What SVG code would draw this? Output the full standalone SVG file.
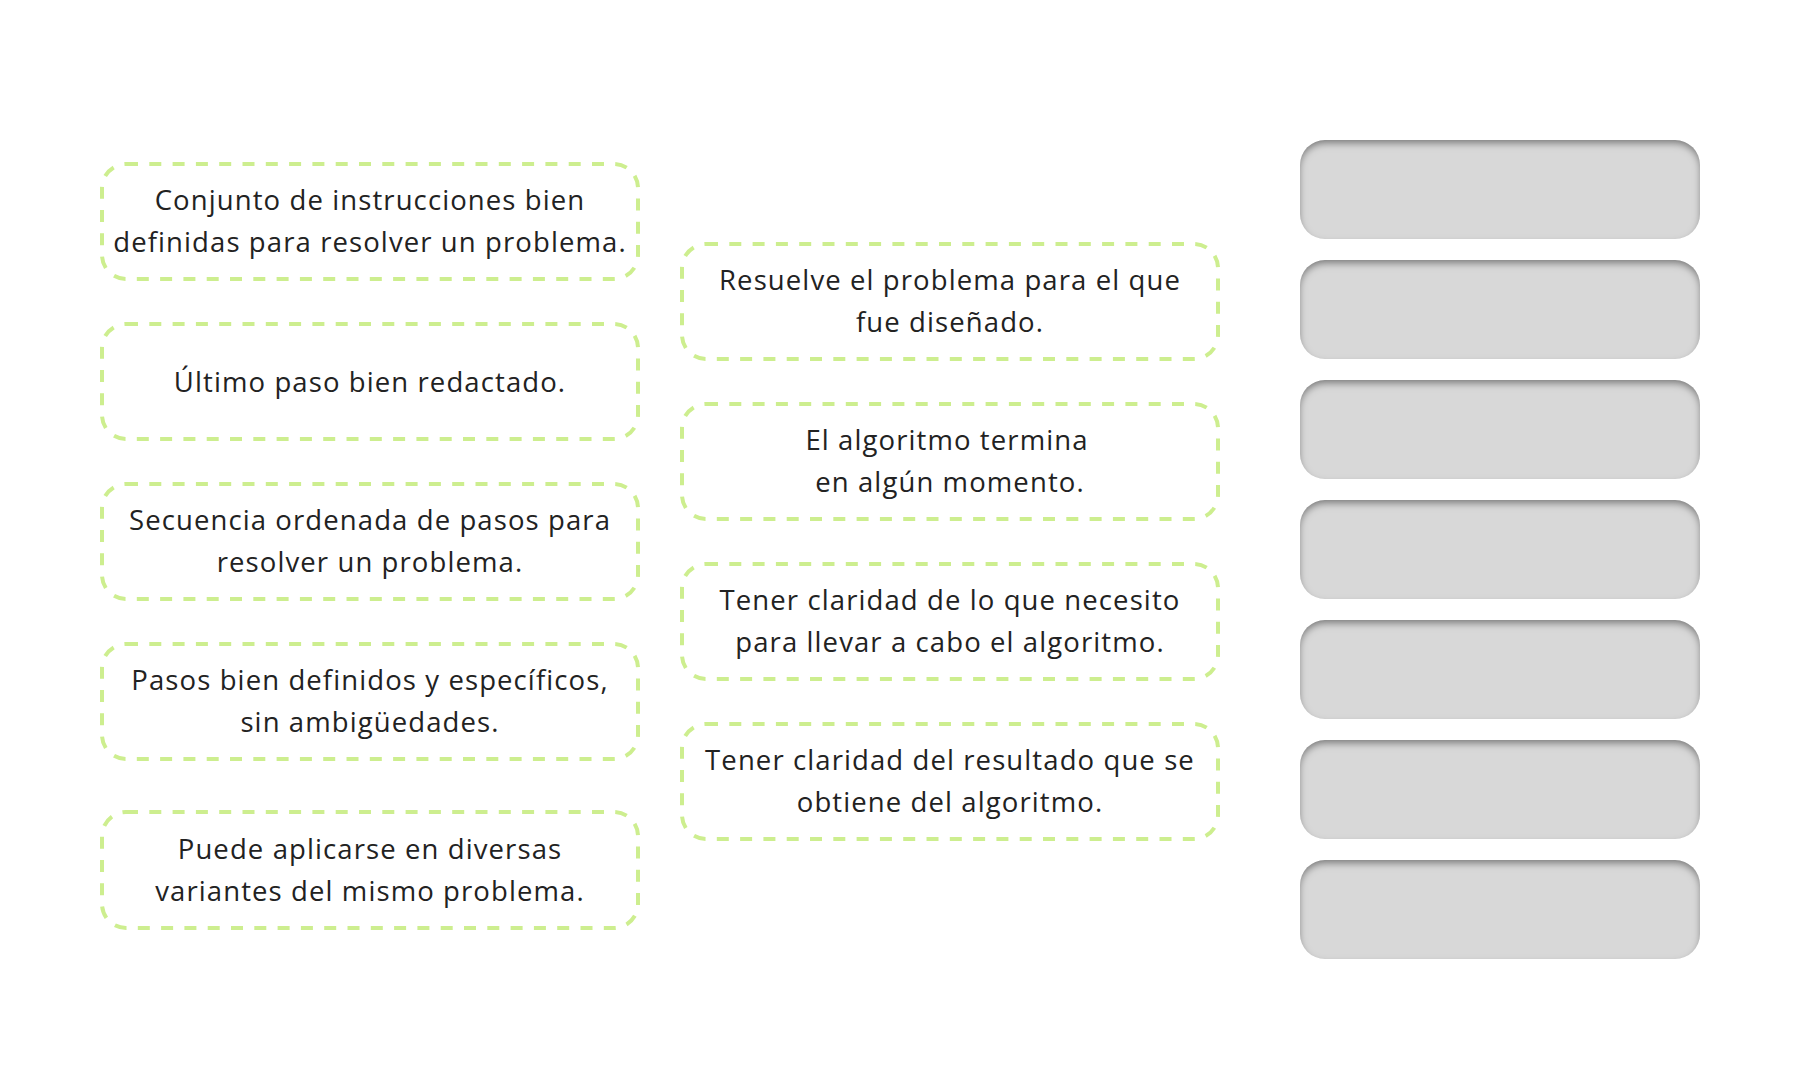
<svg xmlns="http://www.w3.org/2000/svg" width="1800" height="1080" viewBox="0 0 1800 1080">
<defs>
<style>
.card{fill:#ffffff;stroke:#cdee8f;stroke-width:4;stroke-dasharray:12 11.3;}
.t{font-family:"Open Sans","Noto Sans","DejaVu Sans",sans-serif;font-size:27.5px;letter-spacing:1.1px;fill:#222222;text-anchor:middle;}
.slot{fill:#d8d8d8;}
</style>
<filter id="inset" x="-5%" y="-20%" width="110%" height="140%">
<feFlood flood-color="#000000" flood-opacity="0.7" result="f"/>
<feComposite in="f" in2="SourceAlpha" operator="out" result="o"/>
<feOffset in="o" dy="4" result="off"/>
<feGaussianBlur in="off" stdDeviation="3.5" result="b"/>
<feComposite in="b" in2="SourceAlpha" operator="in" result="s"/>
<feMerge><feMergeNode in="SourceGraphic"/><feMergeNode in="s"/></feMerge>
</filter>
</defs>
<rect width="1800" height="1080" fill="#ffffff"/>
<g id="connectors"></g>

<g id="n1"><rect class="card" x="102" y="164" width="536" height="115" rx="24"/>
<text class="t" x="370" y="210">Conjunto de instrucciones bien</text>
<text class="t" x="370" y="252">definidas para resolver un problema.</text></g>
<g id="n2"><rect class="card" x="102" y="324" width="536" height="115" rx="24"/>
<text class="t" x="370" y="392">Último paso bien redactado.</text></g>
<g id="n3"><rect class="card" x="102" y="484" width="536" height="115" rx="24"/>
<text class="t" x="370" y="530">Secuencia ordenada de pasos para</text>
<text class="t" x="370" y="572">resolver un problema.</text></g>
<g id="n4"><rect class="card" x="102" y="644" width="536" height="115" rx="24"/>
<text class="t" x="370" y="690">Pasos bien definidos y específicos,</text>
<text class="t" x="370" y="732">sin ambigüedades.</text></g>
<g id="n5"><rect class="card" x="102" y="812" width="536" height="116" rx="24"/>
<text class="t" x="370" y="859">Puede aplicarse en diversas</text>
<text class="t" x="370" y="901">variantes del mismo problema.</text></g>

<g id="m1"><rect class="card" x="682" y="244" width="536" height="115" rx="24"/>
<text class="t" x="950" y="290">Resuelve el problema para el que</text>
<text class="t" x="950" y="332">fue diseñado.</text></g>
<g id="m2"><rect class="card" x="682" y="404" width="536" height="115" rx="24"/>
<text class="t" x="947" y="450">El algoritmo termina</text>
<text class="t" x="950" y="492">en algún momento.</text></g>
<g id="m3"><rect class="card" x="682" y="564" width="536" height="115" rx="24"/>
<text class="t" x="950" y="610">Tener claridad de lo que necesito</text>
<text class="t" x="950" y="652">para llevar a cabo el algoritmo.</text></g>
<g id="m4"><rect class="card" x="682" y="724" width="536" height="115" rx="24"/>
<text class="t" x="950" y="770">Tener claridad del resultado que se</text>
<text class="t" x="950" y="812">obtiene del algoritmo.</text></g>

<g id="s1"><rect class="slot" filter="url(#inset)" x="1300" y="140" width="400" height="99" rx="25"/></g>
<g id="s2"><rect class="slot" filter="url(#inset)" x="1300" y="260" width="400" height="99" rx="25"/></g>
<g id="s3"><rect class="slot" filter="url(#inset)" x="1300" y="380" width="400" height="99" rx="25"/></g>
<g id="s4"><rect class="slot" filter="url(#inset)" x="1300" y="500" width="400" height="99" rx="25"/></g>
<g id="s5"><rect class="slot" filter="url(#inset)" x="1300" y="620" width="400" height="99" rx="25"/></g>
<g id="s6"><rect class="slot" filter="url(#inset)" x="1300" y="740" width="400" height="99" rx="25"/></g>
<g id="s7"><rect class="slot" filter="url(#inset)" x="1300" y="860" width="400" height="99" rx="25"/></g>
</svg>
